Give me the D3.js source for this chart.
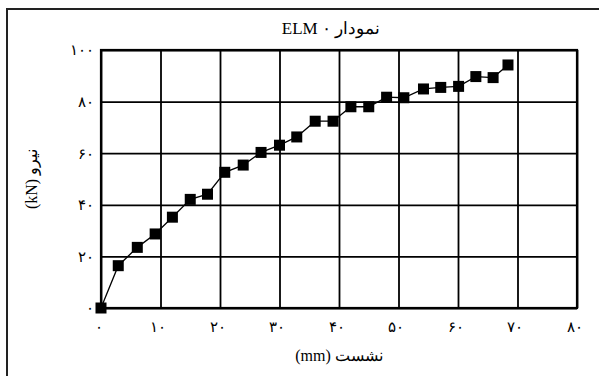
<!DOCTYPE html>
<html>
<head>
<meta charset="utf-8">
<script src="https://cdn.jsdelivr.net/npm/d3@7"></script>
<style>
  body { margin: 0; background: #fff; }
  text { font-family: "Liberation Serif", "DejaVu Serif", serif; fill: #000; }
</style>
</head>
<body>
<script>
// settlement (mm) vs force (kN)
var settlement = [0, 2.9, 6.1, 9.1, 12.0, 15.0, 17.9, 20.8, 23.9, 26.9, 30.0, 32.9,
                  36.0, 39.0, 42.0, 45.0, 48.0, 50.9, 54.2, 57.1, 60.1, 63.0, 65.9, 68.4]
var force = [0, 16.4, 23.5, 28.7, 35.2, 42.1, 44.1, 52.6, 55.4, 60.3, 63.1, 66.3,
             72.4, 72.4, 78.0, 78.0, 81.7, 81.5, 84.9, 85.5, 85.9, 89.7, 89.3, 94.2]
var xTicks = [0, 10, 20, 30, 40, 50, 60, 70, 80]
var yTicks = [0, 20, 40, 60, 80, 100]

var title = "ELM ۰ نمودار"
var xTitle = "(mm) نشست"
var yTitle = "(kN)  نیرو"

var fa = "۰۱۲۳۴۵۶۷۸۹"
function toFa(n){ return String(n).replace(/\d/g, function(c){ return fa[+c] }) }

var W = 599, H = 376
var margin = {top: 50, right: 22, bottom: 68, left: 101}
var width = 577 - margin.left, height = 308 - margin.top

var svg = d3.select('body').append('svg')
    .attr('width', W).attr('height', H)

// outer frame, runs off the right/bottom of the picture
svg.append('rect')
    .attr('x', 7).attr('y', 9)
    .attr('width', 700).attr('height', 500)
    .attr('fill', 'none').attr('stroke', '#222').attr('stroke-width', 2)

svg.append('text')
    .attr('x', 331).attr('y', 34)
    .attr('text-anchor', 'middle')
    .style('font-size', '17px')
    .text(title)

var g = svg.append('g')
    .attr('transform', 'translate(' + margin.left + ',' + margin.top + ')')

var x = d3.scaleLinear().domain([0, 80]).range([0, width])
var y = d3.scaleLinear().domain([0, 100]).range([height, 0])

var xAxis = d3.axisBottom(x).tickValues(xTicks).tickSize(-height).tickPadding(13).tickFormat(toFa)
var yAxis = d3.axisLeft(y).tickValues(yTicks).tickSize(-width).tickPadding(7).tickFormat(toFa)

g.append('g')
    .attr('class', 'x axis')
    .attr('transform', 'translate(0,' + height + ')')
    .call(xAxis)

g.append('g')
    .attr('class', 'y axis')
    .call(yAxis)

g.selectAll('.axis .domain').remove()
g.selectAll('.axis line').attr('stroke', '#000').attr('stroke-width', 1.8)
g.selectAll('.axis text').style('font-size', '15px').attr('fill', '#000')
g.selectAll('.x.axis text').attr('dx', -3)

g.append('rect')
    .attr('width', width).attr('height', height)
    .attr('fill', 'none').attr('stroke', '#000').attr('stroke-width', 2.2)

var pts = settlement.map(function(s, i){ return [s, force[i]] })

g.append('path')
    .datum(pts)
    .attr('fill', 'none').attr('stroke', '#000').attr('stroke-width', 1.3)
    .attr('d', d3.line().x(function(d){ return x(d[0]) }).y(function(d){ return y(d[1]) }))

var s = 11
g.selectAll('rect.pt')
    .data(pts).enter()
  .append('rect')
    .attr('class', 'pt')
    .attr('x', function(d){ return x(d[0]) - s / 2 })
    .attr('y', function(d){ return y(d[1]) - s / 2 })
    .attr('width', s).attr('height', s)
    .attr('fill', '#000')

svg.append('text')
    .attr('x', 339).attr('y', 361)
    .attr('text-anchor', 'middle')
    .style('font-size', '16px')
    .text(xTitle)

svg.append('text')
    .attr('transform', 'translate(37,179) rotate(-90)')
    .attr('text-anchor', 'middle')
    .style('font-size', '16px')
    .text(yTitle)
</script>
</body>
</html>
